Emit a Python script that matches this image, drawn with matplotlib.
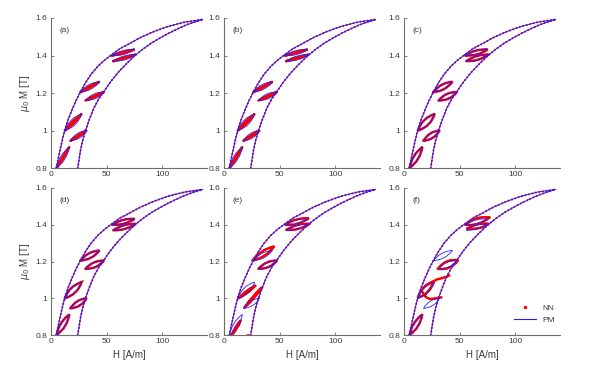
import matplotlib
matplotlib.use('Agg')
import matplotlib.pyplot as plt
from matplotlib.path import Path
from matplotlib.patches import PathPatch
from matplotlib.lines import Line2D

plt.rcParams['font.family'] = ['Liberation Sans', 'DejaVu Sans']
plt.rcParams['mathtext.fontset'] = 'dejavusans'

# ---------------- data ----------------
panel_labels = ['(a)', '(b)', '(c)', '(d)', '(e)', '(f)']
x_ticks = [0, 50, 100]
y_ticks = [0.8, 1.0, 1.2, 1.4, 1.6]
y_tick_labels = ['0.8', '1', '1.2', '1.4', '1.6']

# major loop, descending (upper/left) branch
upper_H = [4.8, 6.5, 8.5, 10.5, 12.5, 15.5, 19, 22.5, 26.5, 31, 36, 42, 48, 54,
           62, 70, 80, 92, 105, 120, 136]
upper_M = [0.80, 0.85, 0.905, 0.958, 1.005, 1.06, 1.112, 1.16, 1.207, 1.255, 1.30,
           1.342, 1.375, 1.402, 1.437, 1.462, 1.495, 1.527, 1.555, 1.578, 1.592]
# major loop, ascending (lower/right) branch
lower_H = [24, 26.5, 28.5, 31, 34.5, 38.5, 43, 47.7, 53.5, 60, 67, 75, 82, 90,
           98, 106, 114, 121, 128, 136]
lower_M = [0.80, 0.895, 0.95, 1.0, 1.06, 1.12, 1.17, 1.21, 1.26, 1.308, 1.352,
           1.398, 1.432, 1.466, 1.494, 1.52, 1.543, 1.562, 1.577, 1.592]

# PM minor loops: start, end, control of lower arc, control of upper arc
pm_start = [(5, 0.80), (12.5, 1.0), (17.5, 0.945), (26.5, 1.205), (31, 1.16), (55, 1.40), (56, 1.37)]
pm_end = [(16.5, 0.912), (27.5, 1.088), (32, 1.0), (43.5, 1.26), (47.5, 1.205), (75, 1.432), (76, 1.405)]
pm_ctrl_low = [(14.55, 0.842), (23.8, 1.020), (27.15, 0.9495), (37.1, 1.2087), (41.1, 1.158), (65.9, 1.395), (67, 1.367)]
pm_ctrl_up = [(6.95, 0.870), (16.2, 1.067), (22.35, 0.9955), (32.9, 1.2563), (37.4, 1.207), (64.1, 1.437), (65, 1.408)]

# NN minor loops, narrow variant (panels a, b)
nn_thin_ctrl_low = [(12.0, 0.851), (21.3, 1.036), (25.55, 0.965), (35.7, 1.2246), (39.86, 1.1743), (65.3, 1.409), (66.3, 1.3806)]
nn_thin_ctrl_up = [(9.5, 0.861), (18.7, 1.052), (23.95, 0.980), (34.3, 1.2404), (38.64, 1.1907), (64.7, 1.423), (65.7, 1.3944)]

# NN minor loops, panel (e)
nn_e_start = [(7, 0.80), (13, 1.0), (18.5, 0.95), (25.5, 1.205), (31, 1.16), (55, 1.40), (56, 1.372)]
nn_e_end = [(15, 0.88), (28.5, 1.07), (34, 1.058), (45, 1.282), (47.5, 1.205), (76, 1.435), (77, 1.405)]
nn_e_ctrl_low = [(12.5, 0.8345), (21.8, 1.026), (27.6, 0.997), (37.7, 1.221), (41.1, 1.158), (66.5, 1.393), (67.5, 1.367)]
nn_e_ctrl_up = [(9.5, 0.8455), (19.7, 1.044), (24.9, 1.011), (32.8, 1.266), (37.4, 1.207), (64.5, 1.44), (65.5, 1.410)]
nn_e_extra_H = [20.5, 23.5]
nn_e_extra_M = [0.802, 0.802]

# NN minor loops, panel (f)
nn_f_start = [(5, 0.80), (12.5, 1.003), (30.5, 1.16), (55, 1.40), (57, 1.38)]
nn_f_end = [(16.5, 0.912), (26.5, 1.092), (48.5, 1.207), (77, 1.44), (76, 1.405)]
nn_f_ctrl_low = [(14.55, 0.842), (23.3, 1.024), (42, 1.149), (66.8, 1.39), (67.5, 1.37)]
nn_f_ctrl_up = [(6.95, 0.870), (15.7, 1.071), (37, 1.218), (64.2, 1.45), (65.5, 1.415)]
nn_f_path1_H = [26.5, 29, 33, 38, 41]
nn_f_path1_M = [1.092, 1.101, 1.108, 1.116, 1.126]
nn_f_path2_H = [16.5, 18.5, 20.5, 23, 28, 33.5]
nn_f_path2_M = [1.035, 1.015, 1.003, 0.996, 0.999, 1.005]

nn_loops = {
    0: (pm_start, pm_end, nn_thin_ctrl_low, nn_thin_ctrl_up),
    1: (pm_start, pm_end, nn_thin_ctrl_low, nn_thin_ctrl_up),
    2: (pm_start, pm_end, pm_ctrl_low, pm_ctrl_up),
    3: (pm_start, pm_end, pm_ctrl_low, pm_ctrl_up),
    4: (nn_e_start, nn_e_end, nn_e_ctrl_low, nn_e_ctrl_up),
    5: (nn_f_start, nn_f_end, nn_f_ctrl_low, nn_f_ctrl_up),
}
nn_extra = {
    4: [(nn_e_extra_H, nn_e_extra_M)],
    5: [(nn_f_path1_H, nn_f_path1_M), (nn_f_path2_H, nn_f_path2_M)],
}

RED = '#ff0000'
BLUE = '#2020ff'
AX_COL = '#6e6e6e'
TXT_COL = '#3a3a3a'


def lens(P, Q, CL, CU):
    return Path([P, CL, Q, CU, P],
                [Path.MOVETO, Path.CURVE3, Path.CURVE3, Path.CURVE3, Path.CURVE3])


W, H = 591, 372
fig = plt.figure(figsize=(W / 100, H / 100), dpi=100)
lefts = [51, 224, 404]
rows = [(18, 168), (188, 335)]
aw = 156

for i in range(6):
    r, c = divmod(i, 3)
    top, bot = rows[r]
    ax = fig.add_axes([lefts[c] / W, 1 - bot / H, aw / W, (bot - top) / H])
    ax.set_xlim(0, 140)
    ax.set_ylim(0.8, 1.6)

    # NN (red dots)
    for hh, mm in [(upper_H, upper_M), (lower_H, lower_M)]:
        ax.plot(hh, mm, color=RED, lw=1.5, linestyle=(0, (0.1, 1.6)),
                dash_capstyle='round', zorder=2)
    s, e, cl, cu = nn_loops[i]
    for P, Q, CL, CU in zip(s, e, cl, cu):
        ax.add_patch(PathPatch(lens(P, Q, CL, CU), fill=False, edgecolor=RED,
                               lw=1.9, linestyle=(0, (0.1, 0.6)),
                               capstyle='round', zorder=2))
    for hh, mm in nn_extra.get(i, []):
        ax.plot(hh, mm, color=RED, lw=1.9, linestyle=(0, (0.1, 0.6)),
                dash_capstyle='round', zorder=2)

    # PM (blue line)
    for hh, mm in [(upper_H, upper_M), (lower_H, lower_M)]:
        ax.plot(hh, mm, color=BLUE, lw=0.7, zorder=3)
    for P, Q, CL, CU in zip(pm_start, pm_end, pm_ctrl_low, pm_ctrl_up):
        ax.add_patch(PathPatch(lens(P, Q, CL, CU), fill=False, edgecolor=BLUE,
                               lw=0.6, zorder=3))

    for sp in ['top', 'right']:
        ax.spines[sp].set_visible(False)
    for sp in ['left', 'bottom']:
        ax.spines[sp].set_color(AX_COL)
        ax.spines[sp].set_linewidth(0.8)
    ax.set_xticks(x_ticks)
    ax.set_yticks(y_ticks)
    ax.set_yticklabels(y_tick_labels)
    ax.tick_params(direction='in', length=2, width=0.6, colors=AX_COL,
                   labelcolor=TXT_COL, labelsize=6, pad=2.5)
    ax.text(0.055, 0.915, panel_labels[i], transform=ax.transAxes,
            fontsize=6, color=TXT_COL, va='center', ha='left')
    if c == 0:
        ax.set_ylabel(r'$\mu_0$ M [T]', fontsize=7, color=TXT_COL, labelpad=3)
    if r == 1:
        ax.set_xlabel('H [A/m]', fontsize=7, color=TXT_COL, labelpad=3)
    if i == 5:
        handles = [Line2D([], [], color=RED, marker='.', markersize=3, linestyle='none'),
                   Line2D([], [], color=BLUE, lw=0.8)]
        ax.legend(handles, ['NN', 'PM'], loc='lower right', frameon=False,
                  fontsize=6, bbox_to_anchor=(1.0, 0.04), handlelength=2.6,
                  labelcolor=TXT_COL, borderaxespad=0.2)

fig.savefig('out.png', dpi=100)
